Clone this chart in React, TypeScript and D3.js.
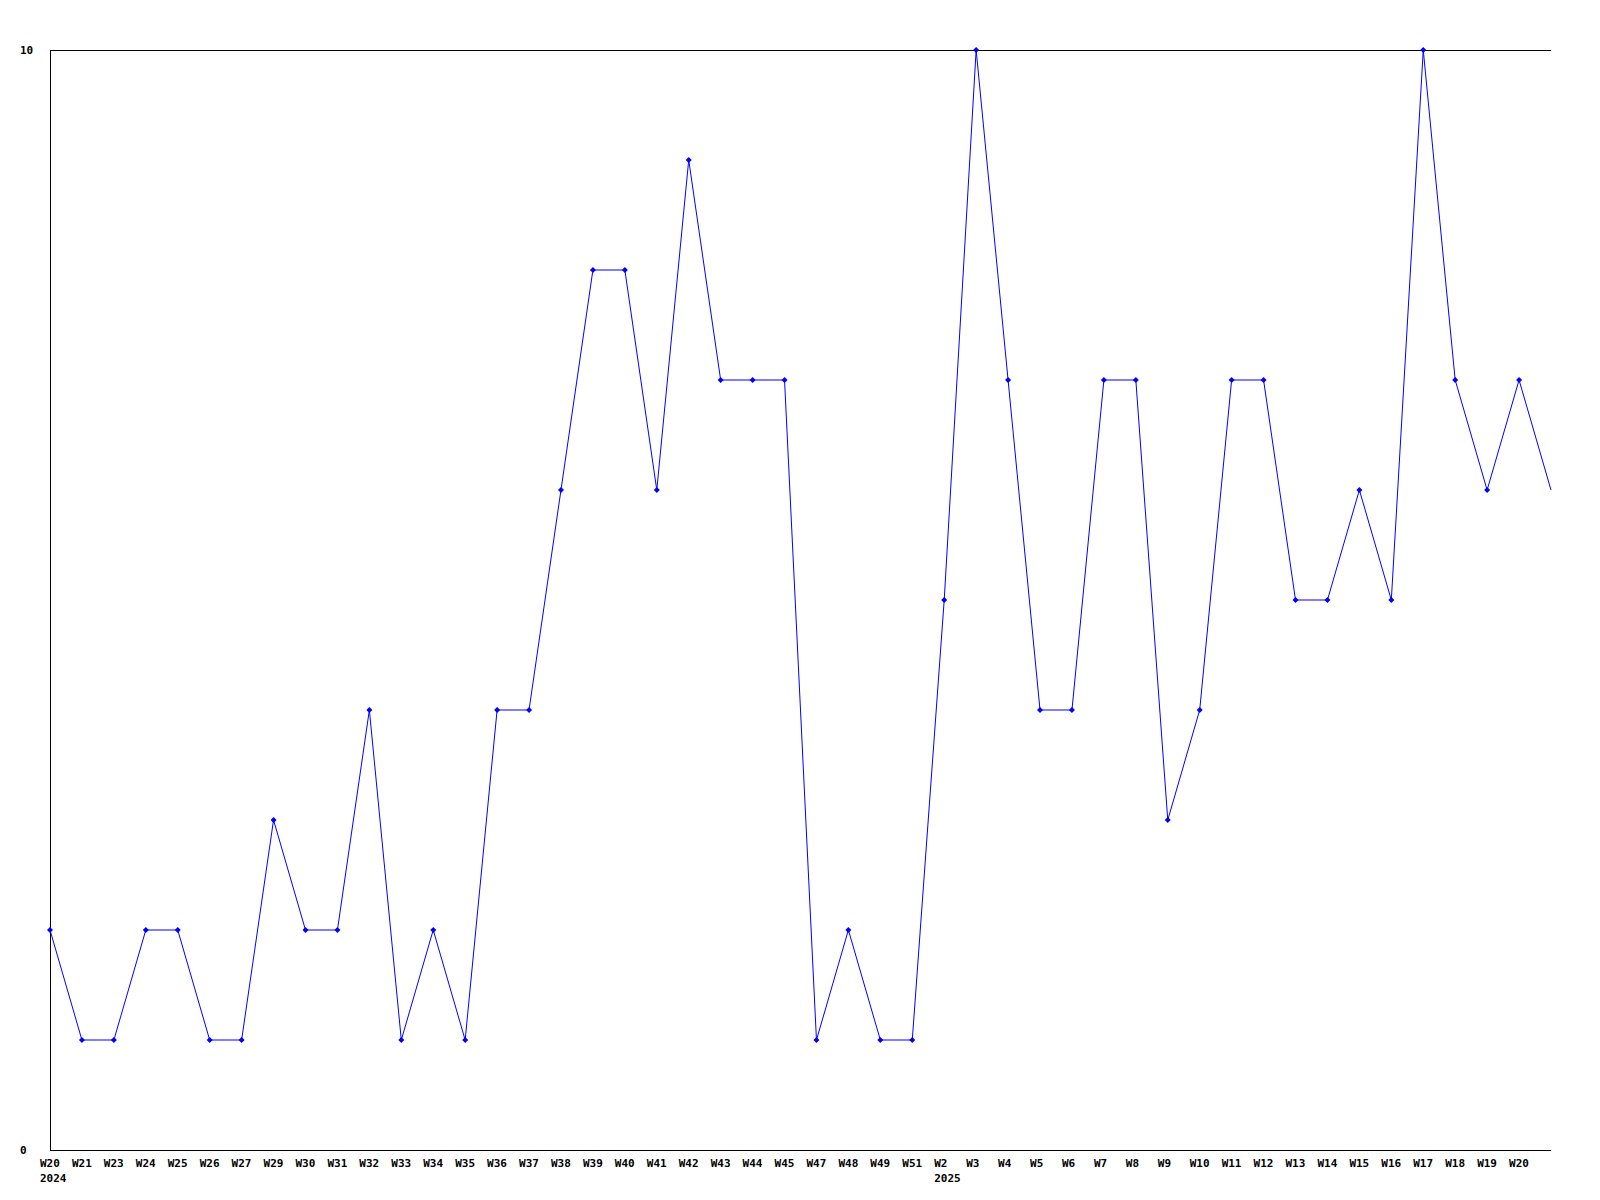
import React from "react";
import * as d3 from "d3";

const weekLabels: string[] = [
  "W20", "W21", "W23", "W24", "W25", "W26", "W27", "W29", "W30", "W31",
  "W32", "W33", "W34", "W35", "W36", "W37", "W38", "W39", "W40", "W41",
  "W42", "W43", "W44", "W45", "W47", "W48", "W49", "W51", "W2", "W3",
  "W4", "W5", "W6", "W7", "W8", "W9", "W10", "W11", "W12", "W13",
  "W14", "W15", "W16", "W17", "W18", "W19", "W20", "",
];

const values: number[] = [
  2, 1, 1, 2, 2, 1, 1, 3, 2, 2,
  4, 1, 2, 1, 4, 4, 6, 8, 8, 6,
  9, 7, 7, 7, 1, 2, 1, 1, 5, 10,
  7, 4, 4, 7, 7, 3, 4, 7, 7, 5,
  5, 6, 5, 10, 7, 6, 7, 6,
];

const yearLabels: { index: number; label: string }[] = [
  { index: 0, label: "2024" },
  { index: 28, label: "2025" },
];

const yTicks: number[] = [0, 10];

const W = 1600;
const H = 1200;
const left = 50;
const right = 1551;
const top = 50;
const bottom = 1150;

export default function App() {
  const x = d3
    .scaleLinear()
    .domain([0, values.length - 1])
    .range([left, right]);
  const y = d3.scaleLinear().domain([0, 10]).range([bottom, top]);
  const line = d3
    .line<number>()
    .x((_, i) => x(i))
    .y((d) => y(d));
  const font = "'DejaVu Sans Mono', monospace";

  return (
    <div style={{ position: "absolute", left: 0, top: 0 }}>
      <svg width={W} height={H} style={{ display: "block", background: "#fff" }}>
        <rect x={0} y={0} width={W} height={H} fill="#fff" />
        <line x1={left} y1={top + 0.5} x2={right} y2={top + 0.5} stroke="#000" strokeWidth={1} shapeRendering="crispEdges" />
        <line x1={left} y1={bottom + 0.5} x2={right} y2={bottom + 0.5} stroke="#000" strokeWidth={1} shapeRendering="crispEdges" />
        <line x1={left + 0.5} y1={top} x2={left + 0.5} y2={bottom} stroke="#000" strokeWidth={1} shapeRendering="crispEdges" />
        {yTicks.map((t) => (
          <text
            key={t}
            x={20}
            y={y(t) + 4}
            fontFamily={font}
            fontWeight="bold"
            fontSize={11}
            fill="#000"
          >
            {t}
          </text>
        ))}
        <path d={line(values) || ""} fill="none" stroke="#0000ff" strokeWidth={1} />
        {values.slice(0, values.length - 1).map((v, i) => {
          const cx = x(i);
          const cy = y(v);
          return (
            <path
              key={i}
              d={`M${cx - 3},${cy}L${cx},${cy - 3}L${cx + 3},${cy}L${cx},${cy + 3}Z`}
              fill="#0000ff"
              stroke="none"
            />
          );
        })}
        {weekLabels.map((l, i) =>
          l ? (
            <text
              key={i}
              x={x(i) - 10}
              y={1167}
              fontFamily={font}
              fontWeight="bold"
              fontSize={11}
              fill="#000"
            >
              {l}
            </text>
          ) : null
        )}
        {yearLabels.map((yl) => (
          <text
            key={yl.label}
            x={x(yl.index) - 10}
            y={1182}
            fontFamily={font}
            fontWeight="bold"
            fontSize={11}
            fill="#000"
          >
            {yl.label}
          </text>
        ))}
      </svg>
    </div>
  );
}
